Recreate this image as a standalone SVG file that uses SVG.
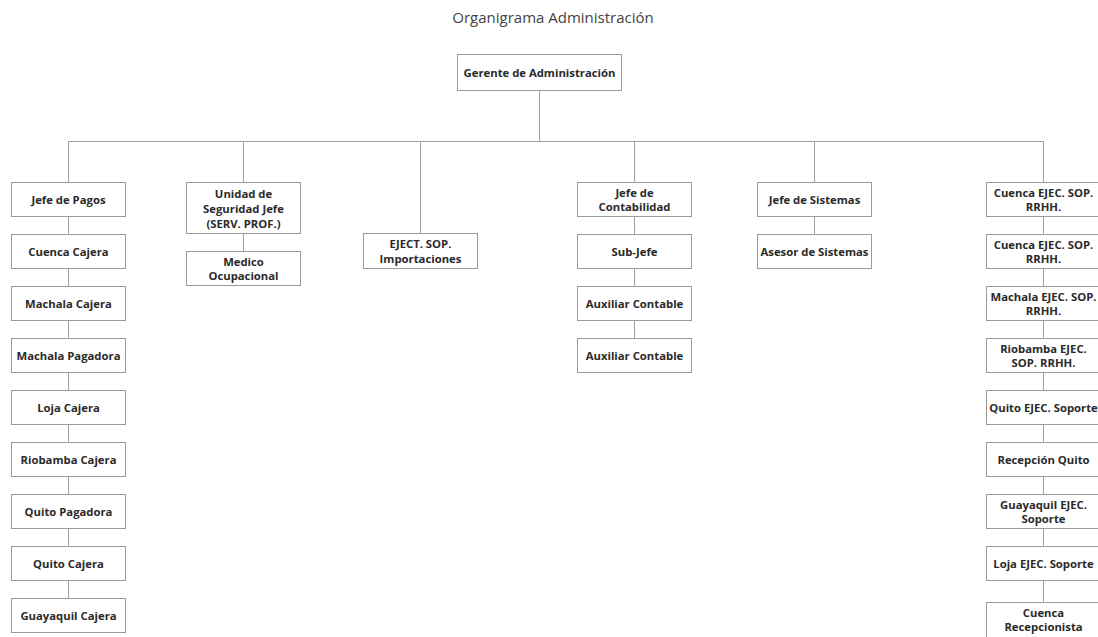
<svg xmlns="http://www.w3.org/2000/svg" width="1098" height="637" viewBox="0 0 1098 637">
  <style>
    .box { fill: #ffffff; stroke: #9a9a9a; stroke-width: 1; }
    .lbl { font-family: "Open Sans", "Liberation Sans", sans-serif; font-weight: bold; font-size: 11.3px; fill: #2a2a2a; text-anchor: middle; }
    .title { font-family: "Open Sans", "Liberation Sans", sans-serif; font-size: 15px; fill: #444444; text-anchor: middle; }
    .conn { stroke: #a0a0a0; stroke-width: 1; fill: none; }
  </style>
  <rect x="0" y="0" width="1098" height="637" fill="#ffffff"/>
  <text class="title" x="553" y="23">Organigrama Administración</text>

  <!-- connectors -->
  <g id="connectors" class="conn">
    <path d="M539.5 90.5 V141.5"/>
    <path d="M68.5 141.5 H1043.5"/>
    <!-- drops from the bus -->
    <path d="M68.5 141.5 V182.5 M243.5 141.5 V182.5 M420.5 141.5 V233.5 M634.5 141.5 V182.5 M814.5 141.5 V182.5 M1043.5 141.5 V182.5"/>
    <!-- Jefe de Pagos chain -->
    <path d="M68.5 216.5 V234.5 M68.5 268.5 V286.5 M68.5 320.5 V338.5 M68.5 372.5 V390.5 M68.5 424.5 V442.5 M68.5 476.5 V494.5 M68.5 528.5 V546.5 M68.5 580.5 V598.5"/>
    <!-- Seguridad -->
    <path d="M243.5 233.5 V251.5"/>
    <!-- Contabilidad -->
    <path d="M634.5 216.5 V234.5 M634.5 268.5 V286.5 M634.5 320.5 V338.5"/>
    <!-- Sistemas -->
    <path d="M814.5 216.5 V234.5"/>
    <!-- RRHH column -->
    <path d="M1043.5 216.5 V234.5 M1043.5 268.5 V286.5 M1043.5 320.5 V338.5 M1043.5 372.5 V390.5 M1043.5 424.5 V442.5 M1043.5 476.5 V494.5 M1043.5 528.5 V546.5 M1043.5 580.5 V602.5"/>
  </g>

  <g id="gerente"><rect class="box" x="457.5" y="54.5" width="164" height="36"/><text class="lbl" x="539.5" y="76.5">Gerente de Administración</text></g>

  <!-- Pagos column -->
  <g id="jefe-pagos"><rect class="box" x="11.5" y="182.5" width="114" height="34"/><text class="lbl" x="68.5" y="203.5">Jefe de Pagos</text></g>
  <g id="cuenca-cajera"><rect class="box" x="11.5" y="234.5" width="114" height="34"/><text class="lbl" x="68.5" y="255.5">Cuenca Cajera</text></g>
  <g id="machala-cajera"><rect class="box" x="11.5" y="286.5" width="114" height="34"/><text class="lbl" x="68.5" y="307.5">Machala Cajera</text></g>
  <g id="machala-pagadora"><rect class="box" x="11.5" y="338.5" width="114" height="34"/><text class="lbl" x="68.5" y="359.5">Machala Pagadora</text></g>
  <g id="loja-cajera"><rect class="box" x="11.5" y="390.5" width="114" height="34"/><text class="lbl" x="68.5" y="411.5">Loja Cajera</text></g>
  <g id="riobamba-cajera"><rect class="box" x="11.5" y="442.5" width="114" height="34"/><text class="lbl" x="68.5" y="463.5">Riobamba Cajera</text></g>
  <g id="quito-pagadora"><rect class="box" x="11.5" y="494.5" width="114" height="34"/><text class="lbl" x="68.5" y="515.5">Quito Pagadora</text></g>
  <g id="quito-cajera"><rect class="box" x="11.5" y="546.5" width="114" height="34"/><text class="lbl" x="68.5" y="567.5">Quito Cajera</text></g>
  <g id="guayaquil-cajera"><rect class="box" x="11.5" y="598.5" width="114" height="34"/><text class="lbl" x="68.5" y="619.5">Guayaquil Cajera</text></g>

  <!-- Seguridad column -->
  <g id="seguridad"><rect class="box" x="186.5" y="182.5" width="114" height="51"/>
    <text class="lbl" x="243.5" y="198"><tspan x="243.5">Unidad de</tspan><tspan x="243.5" dy="15">Seguridad Jefe</tspan><tspan x="243.5" dy="15">(SERV. PROF.)</tspan></text></g>
  <g id="medico"><rect class="box" x="186.5" y="251.5" width="114" height="34"/>
    <text class="lbl" x="243.5" y="265.5"><tspan x="243.5">Medico</tspan><tspan x="243.5" dy="14.5">Ocupacional</tspan></text></g>

  <!-- Importaciones -->
  <g id="importaciones"><rect class="box" x="363.5" y="233.5" width="114" height="35"/>
    <text class="lbl" x="420.5" y="248"><tspan x="420.5">EJECT. SOP.</tspan><tspan x="420.5" dy="14.5">Importaciones</tspan></text></g>

  <!-- Contabilidad column -->
  <g id="jefe-contabilidad"><rect class="box" x="577.5" y="182.5" width="114" height="34"/>
    <text class="lbl" x="634.5" y="196.5"><tspan x="634.5">Jefe de</tspan><tspan x="634.5" dy="14.5">Contabilidad</tspan></text></g>
  <g id="sub-jefe"><rect class="box" x="577.5" y="234.5" width="114" height="34"/><text class="lbl" x="634.5" y="255.5">Sub-Jefe</text></g>
  <g id="auxiliar-1"><rect class="box" x="577.5" y="286.5" width="114" height="34"/><text class="lbl" x="634.5" y="307.5">Auxiliar Contable</text></g>
  <g id="auxiliar-2"><rect class="box" x="577.5" y="338.5" width="114" height="34"/><text class="lbl" x="634.5" y="359.5">Auxiliar Contable</text></g>

  <!-- Sistemas column -->
  <g id="jefe-sistemas"><rect class="box" x="757.5" y="182.5" width="114" height="34"/><text class="lbl" x="814.5" y="203.5">Jefe de Sistemas</text></g>
  <g id="asesor-sistemas"><rect class="box" x="757.5" y="234.5" width="114" height="34"/><text class="lbl" x="814.5" y="255.5">Asesor de Sistemas</text></g>

  <!-- RRHH / soporte column -->
  <g id="cuenca-rrhh-1"><rect class="box" x="986.5" y="182.5" width="114" height="34"/>
    <text class="lbl" x="1043.5" y="196.5"><tspan x="1043.5">Cuenca EJEC. SOP.</tspan><tspan x="1043.5" dy="14.5">RRHH.</tspan></text></g>
  <g id="cuenca-rrhh-2"><rect class="box" x="986.5" y="234.5" width="114" height="34"/>
    <text class="lbl" x="1043.5" y="248.5"><tspan x="1043.5">Cuenca EJEC. SOP.</tspan><tspan x="1043.5" dy="14.5">RRHH.</tspan></text></g>
  <g id="machala-rrhh"><rect class="box" x="986.5" y="286.5" width="114" height="34"/>
    <text class="lbl" x="1043.5" y="300.5"><tspan x="1043.5">Machala EJEC. SOP.</tspan><tspan x="1043.5" dy="14.5">RRHH.</tspan></text></g>
  <g id="riobamba-rrhh"><rect class="box" x="986.5" y="338.5" width="114" height="34"/>
    <text class="lbl" x="1043.5" y="352.5"><tspan x="1043.5">Riobamba EJEC.</tspan><tspan x="1043.5" dy="14.5">SOP. RRHH.</tspan></text></g>
  <g id="quito-soporte"><rect class="box" x="986.5" y="390.5" width="114" height="34"/><text class="lbl" x="1043.5" y="411.5">Quito EJEC. Soporte</text></g>
  <g id="recepcion-quito"><rect class="box" x="986.5" y="442.5" width="114" height="34"/><text class="lbl" x="1043.5" y="463.5">Recepción Quito</text></g>
  <g id="guayaquil-soporte"><rect class="box" x="986.5" y="494.5" width="114" height="34"/>
    <text class="lbl" x="1043.5" y="508.5"><tspan x="1043.5">Guayaquil EJEC.</tspan><tspan x="1043.5" dy="14.5">Soporte</tspan></text></g>
  <g id="loja-soporte"><rect class="box" x="986.5" y="546.5" width="114" height="34"/><text class="lbl" x="1043.5" y="567.5">Loja EJEC. Soporte</text></g>
  <g id="cuenca-recepcionista"><rect class="box" x="986.5" y="602.5" width="114" height="40"/>
    <text class="lbl" x="1043.5" y="616.5"><tspan x="1043.5">Cuenca</tspan><tspan x="1043.5" dy="14.5">Recepcionista</tspan></text></g>
</svg>
